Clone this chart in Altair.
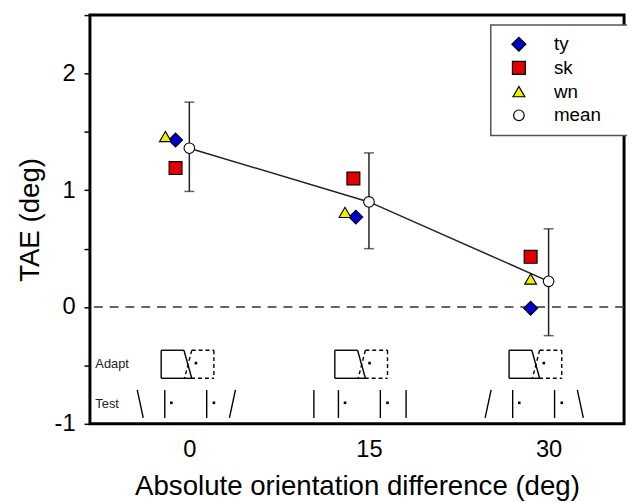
import altair as alt
import pandas as pd

# ---------------- data ----------------
series_names = ["ty", "sk", "wn", "mean"]
series_fill = ["#0000cc", "#e00000", "#f2ee00", "#ffffff"]
series_stroke = ["black", "black", "black", "black"]
series_shape = ["diamond", "square", "triangle-up", "circle"]
series_size = [200, 115, 150, 240]

ty_x = [-1.15, 13.9, 28.5]
ty_y = [1.43, 0.77, -0.01]
sk_x = [-1.15, 13.7, 28.5]
sk_y = [1.19, 1.10, 0.43]
wn_x = [-2.0, 13.0, 28.5]
wn_y = [1.46, 0.81, 0.24]
mean_x = [0, 15, 30]
mean_y = [1.36, 0.90, 0.22]
err_lo = [0.99, 0.50, -0.245]
err_hi = [1.755, 1.32, 0.67]

x_ticks = [0, 15, 30]
y_ticks = [-1, -0.5, 0, 0.5, 1, 1.5, 2, 2.5]

# schematic (stimulus icons) drawn below the data, in data units
schem_centers = [-0.15, 14.35, 28.9]
adapt_top, adapt_bottom, adapt_dot_y = -0.37, -0.61, -0.48
test_top, test_bottom, test_dot_y = -0.71, -0.95, -0.82
adapt_solid_rel = [(-2.2, "t", -0.3, "t"), (-2.2, "t", -2.2, "b"),
                   (-2.2, "b", 0.35, "b"), (-0.3, "t", 0.35, "b")]
adapt_dashed_rel = [(0.35, "t", -0.25, "b"), (0.35, "t", 2.2, "t"),
                    (2.2, "t", 2.2, "b"), (0.3, "b", 2.2, "b")]
adapt_dot_rel = 0.7
test_inner_rel = [-1.9, 1.6]
test_dot_rel = [-1.35, 2.2]
test_outer_rel = [-3.95, 3.75]
outer_left_tilt = [-1, 0, 1]
outer_right_tilt = [1, 0, -1]
tilt = 0.25
row_labels = ["Adapt", "Test"]
row_label_x = -7.85
row_label_y = [-0.49, -0.83]

# ---------------- tables ----------------
pts = pd.DataFrame({
    "series": ["ty"] * 3 + ["sk"] * 3 + ["wn"] * 3 + ["mean"] * 3,
    "x": ty_x + sk_x + wn_x + mean_x,
    "y": ty_y + sk_y + wn_y + mean_y,
})
means = pd.DataFrame({"x": mean_x, "y": mean_y, "lo": err_lo, "hi": err_hi})

def yv(k, top, bottom):
    return top if k == "t" else bottom

solid_rows, dashed_rows, dot_rows, test_rows = [], [], [], []
for gi, c in enumerate(schem_centers):
    for (a, ka, b, kb) in adapt_solid_rel:
        solid_rows.append({"x": c + a, "y": yv(ka, adapt_top, adapt_bottom),
                           "x2": c + b, "y2": yv(kb, adapt_top, adapt_bottom)})
    for (a, ka, b, kb) in adapt_dashed_rel:
        dashed_rows.append({"x": c + a, "y": yv(ka, adapt_top, adapt_bottom),
                            "x2": c + b, "y2": yv(kb, adapt_top, adapt_bottom)})
    dot_rows.append({"x": c + adapt_dot_rel, "y": adapt_dot_y})
    for r in test_inner_rel:
        test_rows.append({"x": c + r, "y": test_top, "x2": c + r, "y2": test_bottom})
    for r in test_dot_rel:
        dot_rows.append({"x": c + r, "y": test_dot_y})
    lt, rt = outer_left_tilt[gi], outer_right_tilt[gi]
    test_rows.append({"x": c + test_outer_rel[0] + lt * tilt, "y": test_top,
                      "x2": c + test_outer_rel[0] - lt * tilt, "y2": test_bottom})
    test_rows.append({"x": c + test_outer_rel[1] + rt * tilt, "y": test_top,
                      "x2": c + test_outer_rel[1] - rt * tilt, "y2": test_bottom})

solid_df = pd.DataFrame(solid_rows + test_rows)
dashed_df = pd.DataFrame(dashed_rows)
dot_df = pd.DataFrame(dot_rows)
lab_df = pd.DataFrame({"label": row_labels, "x": [row_label_x] * 2, "y": row_label_y})
zero_df = pd.DataFrame({"y": [0]})

FONT = "Liberation Sans"

xscale = alt.Scale(domain=[-8.3, 36.3], nice=False, zero=False)
yscale = alt.Scale(domain=[-1, 2.5], nice=False, zero=False)

xenc = alt.X("x:Q", scale=xscale, title="Absolute orientation difference (deg)",
             axis=alt.Axis(values=x_ticks, ticks=False, domain=False, grid=False,
                           labelFontSize=24, labelPadding=14, titleFontSize=28,
                           titlePadding=12, labelFont=FONT, titleFont=FONT,
                           titleFontWeight="normal", labelColor="black", titleColor="black"))
yenc = alt.Y("y:Q", scale=yscale, title="TAE (deg)",
             axis=alt.Axis(values=y_ticks, grid=False, domain=False, tickSize=6,
                           tickWidth=1.5, tickColor="black",
                           labelExpr="datum.value % 1 == 0 ? (datum.value < 0 ? '-' + abs(datum.value) : '' + datum.value) : ''",
                           labelFontSize=24, labelPadding=9, titleFontSize=28,
                           titlePadding=10, labelFont=FONT, titleFont=FONT,
                           titleFontWeight="normal", labelColor="black", titleColor="black"))

zero_line = alt.Chart(zero_df).mark_rule(color="#333", strokeWidth=1.6, strokeDash=[9, 7]).encode(
    y=alt.Y("y:Q", scale=yscale))

solid = alt.Chart(solid_df).mark_rule(color="black", strokeWidth=1.4).encode(
    x=alt.X("x:Q", scale=xscale), y=alt.Y("y:Q", scale=yscale), x2="x2:Q", y2="y2:Q")
dashed = alt.Chart(dashed_df).mark_rule(color="black", strokeWidth=1.4, strokeDash=[4, 3]).encode(
    x=alt.X("x:Q", scale=xscale), y=alt.Y("y:Q", scale=yscale), x2="x2:Q", y2="y2:Q")
dots = alt.Chart(dot_df).mark_square(color="black", size=7, opacity=1).encode(
    x=alt.X("x:Q", scale=xscale), y=alt.Y("y:Q", scale=yscale))
labels = alt.Chart(lab_df).mark_text(align="left", baseline="middle", fontSize=13,
                                     font=FONT, color="#222").encode(
    x=alt.X("x:Q", scale=xscale), y=alt.Y("y:Q", scale=yscale), text="label:N")

err_rule = alt.Chart(means).mark_rule(color="#222", strokeWidth=1.5).encode(
    x=alt.X("x:Q", scale=xscale), y=alt.Y("lo:Q", scale=yscale), y2="hi:Q")
cap_lo = alt.Chart(means).mark_tick(color="#222", orient="horizontal", size=10, thickness=1.5).encode(
    x=alt.X("x:Q", scale=xscale), y=alt.Y("lo:Q", scale=yscale))
cap_hi = alt.Chart(means).mark_tick(color="#222", orient="horizontal", size=10, thickness=1.5).encode(
    x=alt.X("x:Q", scale=xscale), y=alt.Y("hi:Q", scale=yscale))
mean_line = alt.Chart(means).mark_line(color="#222", strokeWidth=1.5).encode(
    x=alt.X("x:Q", scale=xscale), y=alt.Y("y:Q", scale=yscale))

# an invisible legend title placed to the right only widens the legend box
SPACER = "mmm"
leg = alt.Legend(titleOrient="right", titleFontSize=8, titlePadding=0,
                 titleColor="transparent", symbolStrokeWidth=1.2)
points = alt.Chart(pts).mark_point(filled=True, strokeWidth=1.1, opacity=1).encode(
    x=xenc, y=yenc,
    shape=alt.Shape("series:N", scale=alt.Scale(domain=series_names, range=series_shape),
                    title=SPACER, legend=leg),
    fill=alt.Fill("series:N", scale=alt.Scale(domain=series_names, range=series_fill),
                  title=SPACER, legend=leg),
    stroke=alt.Stroke("series:N", scale=alt.Scale(domain=series_names, range=series_stroke),
                      title=SPACER, legend=leg),
    size=alt.Size("series:N", scale=alt.Scale(domain=series_names, range=series_size),
                  title=SPACER, legend=leg),
)

chart = alt.layer(zero_line, solid, dashed, dots, labels, err_rule, cap_lo, cap_hi,
                  mean_line, points).properties(
    width=541, height=414,
    autosize=alt.AutoSizeParams(type="none"),
    padding={"left": 83, "top": 4, "right": 3, "bottom": 76},
).configure_view(stroke="black", strokeWidth=3).configure_legend(
    orient="none", legendX=406, legendY=10, strokeColor="#555", strokeWidth=1.5,
    padding=10, symbolOffset=9, labelOffset=26, labelFontSize=19, labelFont=FONT,
    labelColor="black", rowPadding=4, fillColor="white",
)

chart.save("out.html", embed_options={"renderer": "svg", "actions": False})
